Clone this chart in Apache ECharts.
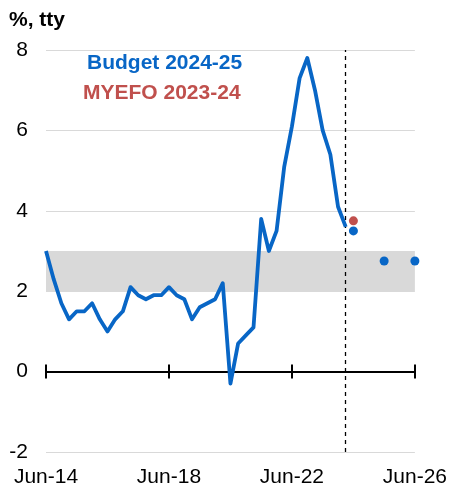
<!DOCTYPE html>
<html>
<head>
<meta charset="utf-8">
<script src="https://cdn.jsdelivr.net/npm/echarts@6/dist/echarts.min.js"></script>
<style>
html,body{margin:0;padding:0;background:#fff;}
#chart{width:450px;height:491px;}
</style>
</head>
<body>
<div id="chart"></div>
<script>
const quarters = [
 'Jun-14','Sep-14','Dec-14','Mar-15','Jun-15','Sep-15','Dec-15','Mar-16',
 'Jun-16','Sep-16','Dec-16','Mar-17','Jun-17','Sep-17','Dec-17','Mar-18',
 'Jun-18','Sep-18','Dec-18','Mar-19','Jun-19','Sep-19','Dec-19','Mar-20',
 'Jun-20','Sep-20','Dec-20','Mar-21','Jun-21','Sep-21','Dec-21','Mar-22',
 'Jun-22','Sep-22','Dec-22','Mar-23','Jun-23','Sep-23','Dec-23','Mar-24',
 'Jun-24','Sep-24','Dec-24','Mar-25','Jun-25','Sep-25','Dec-25','Mar-26',
 'Jun-26'
];
// Actual CPI, through-the-year (%), Jun-14 .. Mar-24
const actual = [
 3.0,2.3,1.7,1.3,1.5,1.5,1.7,1.3,
 1.0,1.3,1.5,2.1,1.9,1.8,1.9,1.9,
 2.1,1.9,1.8,1.3,1.6,1.7,1.8,2.2,
 -0.3,0.7,0.9,1.1,3.8,3.0,3.5,5.1,
 6.1,7.3,7.8,7.0,6.0,5.4,4.1,3.6
];
const budgetQuarters = ['Jun-24','Jun-25','Jun-26'];
const budgetValues = [3.5, 2.75, 2.75];
const myefoQuarters = ['Jun-24'];
const myefoValues = [3.75];
const forecastStart = 'Mar-24';
const targetBand = [2, 3];
const yTicks = {min: -2, max: 8, step: 2};

const lineData = quarters.map((q, i) => i < actual.length ? actual[i] : null);
const budgetData = budgetQuarters.map((q, i) => [q, budgetValues[i]]);
const myefoData = myefoQuarters.map((q, i) => [q, myefoValues[i]]);

const BLUE = '#0866C6';
const RED = '#C0504D';
const FONT = 'Liberation Sans, Arial, sans-serif';

const chart = echarts.init(document.getElementById('chart'), null, {renderer: 'canvas'});
chart.setOption({
  animation: false,
  textStyle: {fontFamily: FONT},
  title: [
    {text: '%, tty', left: 9, top: 10, padding: 0, textStyle: {fontFamily: FONT, fontSize: 21, fontWeight: 'bold', color: '#000'}},
    {text: 'Budget 2024-25', left: 87, top: 53, padding: 0, textStyle: {fontFamily: FONT, fontSize: 21, fontWeight: 'bold', color: BLUE}},
    {text: 'MYEFO 2023-24', left: 83, top: 83, padding: 0, textStyle: {fontFamily: FONT, fontSize: 21, fontWeight: 'bold', color: RED}}
  ],
  grid: {left: 46, right: 35, top: 50, bottom: 39, containLabel: false},
  xAxis: [
    {type: 'category', data: quarters, boundaryGap: false, position: 'bottom',
     axisLine: {onZero: true, onZeroAxisIndex: 0, lineStyle: {color: '#000', width: 2}},
     axisTick: {show: true, interval: 15, length: 7, lineStyle: {color: '#000', width: 2}},
     axisLabel: {show: false}, splitLine: {show: false}},
    {type: 'category', data: quarters, boundaryGap: false, position: 'top',
     axisLine: {onZero: true, onZeroAxisIndex: 0, lineStyle: {color: '#000', width: 2}},
     axisTick: {show: true, interval: 15, length: 7, lineStyle: {color: '#000', width: 2}},
     axisLabel: {show: false}, splitLine: {show: false}},
    {type: 'category', data: quarters, boundaryGap: false, position: 'bottom',
     axisLine: {show: false, onZero: false}, axisTick: {show: false},
     axisLabel: {show: true, interval: 15, fontSize: 21, color: '#000', fontFamily: FONT, margin: 15},
     splitLine: {show: false}}
  ],
  yAxis: {
    type: 'value', min: yTicks.min, max: yTicks.max, interval: yTicks.step,
    axisLine: {show: false}, axisTick: {show: false},
    axisLabel: {fontSize: 21, color: '#000', fontFamily: FONT, margin: 18},
    splitLine: {show: true, lineStyle: {color: '#d9d9d9', width: 1}}
  },
  series: [
    {
      name: 'Actual', type: 'line', data: lineData, xAxisIndex: 0,
      showSymbol: false, symbol: 'none', connectNulls: false, z: 5,
      lineStyle: {color: BLUE, width: 3.8, join: 'round'},
      markArea: {
        silent: true, z: 0,
        itemStyle: {color: '#d9d9d9'},
        data: [[{yAxis: targetBand[0]}, {yAxis: targetBand[1]}]]
      },
      markLine: {
        silent: true, symbol: 'none', label: {show: false},
        lineStyle: {color: '#000', type: [4, 4], width: 1.3},
        data: [{xAxis: forecastStart}]
      }
    },
    {
      name: 'MYEFO 2023-24', type: 'scatter', data: myefoData, xAxisIndex: 0,
      symbolSize: 9, itemStyle: {color: RED, opacity: 1}, z: 6
    },
    {
      name: 'Budget 2024-25', type: 'scatter', data: budgetData, xAxisIndex: 0,
      symbolSize: 9, itemStyle: {color: BLUE, opacity: 1}, z: 6
    }
  ]
});
</script>
</body>
</html>
